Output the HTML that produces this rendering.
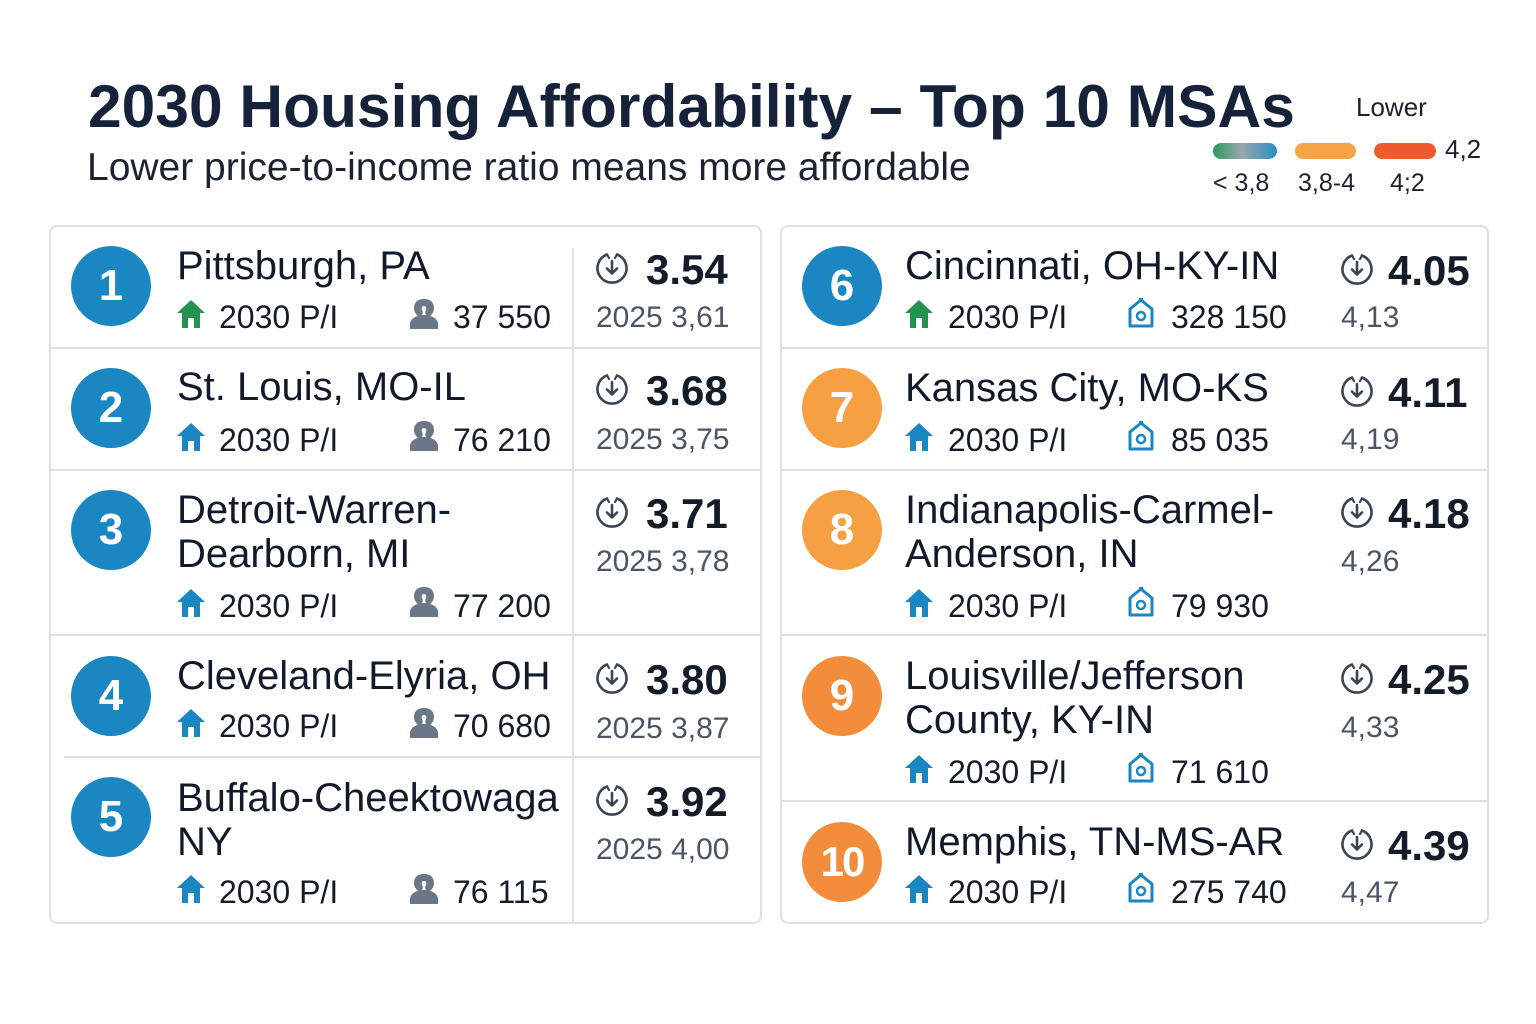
<!DOCTYPE html>
<html><head><meta charset="utf-8">
<style>
*{margin:0;padding:0;box-sizing:border-box}
html,body{width:1536px;height:1024px;background:#fff;overflow:hidden}
body{position:relative;font-family:"Liberation Sans",Arial,sans-serif;color:#121a2b}
.a{position:absolute;white-space:nowrap;line-height:1}
.title{font-weight:700;font-size:60.5px;color:#16213a;left:88px;top:76px;letter-spacing:0px}
.sub{font-size:39px;color:#1b2333;left:87px;top:148px}
.card{position:absolute;border:2px solid #dde1e6;border-radius:8px;background:#fff}
.hl{position:absolute;height:2px;background:#dde1e6}
.vl{position:absolute;width:2px;background:#dde1e6}
.circ{position:absolute;width:80px;height:80px;border-radius:50%;color:#fff;font-weight:700;font-size:44px;line-height:80px;text-align:center}
.blue{background:#1a87c2}
.or1{background:#f6a043}
.or2{background:#f38c3b}
.nm{font-size:40px;color:#111a2b}
.st{font-size:32px;color:#141c2a}
.rt{font-size:42px;font-weight:700;color:#141c2a}
.pv{font-size:30px;color:#4a5566}
svg{position:absolute;overflow:visible}
</style></head><body>

<div class="a title">2030 Housing Affordability – Top 10 MSAs</div>
<div class="a sub">Lower price-to-income ratio means more affordable</div>

<!-- legend -->
<div class="a" style="left:1356px;top:94px;font-size:26px;color:#1a2230">Lower</div>
<div class="a" style="left:1213px;top:143px;width:64px;height:16px;border-radius:8px;background:linear-gradient(90deg,#2a9a5c 0%,#9aa6ae 45%,#2a8fc2 100%)"></div>
<div class="a" style="left:1295px;top:143px;width:61px;height:16px;border-radius:8px;background:#f7a444"></div>
<div class="a" style="left:1374px;top:143px;width:62px;height:16px;border-radius:8px;background:#f05a2c"></div>
<div class="a" style="left:1445px;top:136px;font-size:26px;color:#1a2230">4,2</div>
<div class="a" style="left:1213px;top:171px;font-size:25px;color:#1a2230">&lt; 3,8</div>
<div class="a" style="left:1298px;top:171px;font-size:25px;color:#1a2230">3,8-4</div>
<div class="a" style="left:1390px;top:171px;font-size:25px;color:#1a2230">4;2</div>

<!-- cards -->
<div class="card" style="left:49px;top:225px;width:713px;height:699px"></div>
<div class="card" style="left:780px;top:225px;width:709px;height:699px"></div>

<!-- left dividers -->
<div class="hl" style="left:50px;top:347px;width:711px"></div>
<div class="hl" style="left:50px;top:469px;width:711px"></div>
<div class="hl" style="left:50px;top:634px;width:711px"></div>
<div class="hl" style="left:64px;top:756px;width:697px"></div>
<div class="vl" style="left:572px;top:248px;height:674px"></div>
<!-- right dividers -->
<div class="hl" style="left:781px;top:347px;width:707px"></div>
<div class="hl" style="left:781px;top:469px;width:707px"></div>
<div class="hl" style="left:781px;top:634px;width:707px"></div>
<div class="hl" style="left:781px;top:800px;width:707px"></div>

<svg width="0" height="0" style="position:absolute">
<defs>
<symbol id="house" viewBox="0 0 28 28"><path d="M14 0 L28 13 L23 13 L23 28 L17 28 L17 18 L11 18 L11 28 L5 28 L5 13 L0 13 Z"/></symbol>
<symbol id="person" viewBox="0 0 28 30"><path d="M14 0 C7 0 4 4 4 9 C4 13 6 15 8 17 C3 18 1 21 0 24 L0 30 L28 30 L28 24 C27 21 25 18 20 17 C22 15 24 13 24 9 C24 4 21 0 14 0 Z M14 7 C16 7 17 9 16 11 C15 13 15 14 16 16 L12 16 C13 14 13 13 12 11 C11 9 12 7 14 7 Z" fill-rule="evenodd"/></symbol>
<symbol id="tag" viewBox="0 0 28 30"><path d="M14 2 L25 11 L25 28 L3 28 L3 11 Z" fill="none" stroke="#1a87c2" stroke-width="3" stroke-linejoin="round"/><circle cx="14" cy="18" r="4" fill="none" stroke="#1a87c2" stroke-width="2.5"/><rect x="12" y="0" width="4" height="4" fill="#1a87c2"/></symbol>
<symbol id="clock" viewBox="0 0 34 34"><path d="M12 3.5 A14.5 14.5 0 1 0 22 3.5" fill="none" stroke="#3a4656" stroke-width="2.6" stroke-linecap="round"/><path d="M12 3.5 L14 7 M22 3.5 L20 7" stroke="#3a4656" stroke-width="2.2" stroke-linecap="round"/><path d="M17 10 L17 22 M12 17.5 L17 22.5 L22 17.5" fill="none" stroke="#3a4656" stroke-width="2.6" stroke-linecap="round" stroke-linejoin="round"/></symbol>
</defs>
</svg>

<!-- ROW 1 -->
<div class="circ blue" style="left:71px;top:246px">1</div>
<div class="a nm" style="left:177px;top:246px">Pittsburgh, PA</div>
<svg style="left:177px;top:300px" width="28" height="28" fill="#23944f"><use href="#house"/></svg>
<div class="a st" style="left:219px;top:301px">2030 P/I</div>
<svg style="left:410px;top:299px" width="28" height="30" fill="#6b7786"><use href="#person"/></svg>
<div class="a st" style="left:453px;top:301px">37 550</div>
<svg style="left:595px;top:251px" width="34" height="34"><use href="#clock"/></svg>
<div class="a rt" style="left:646px;top:249px">3.54</div>
<div class="a pv" style="left:596px;top:303px">2025 3,61</div>

<!-- ROW 2 -->
<div class="circ blue" style="left:71px;top:368px">2</div>
<div class="a nm" style="left:177px;top:367px">St. Louis, MO-IL</div>
<svg style="left:177px;top:423px" width="28" height="28" fill="#1a87c2"><use href="#house"/></svg>
<div class="a st" style="left:219px;top:424px">2030 P/I</div>
<svg style="left:410px;top:421px" width="28" height="30" fill="#6b7786"><use href="#person"/></svg>
<div class="a st" style="left:453px;top:424px">76 210</div>
<svg style="left:595px;top:372px" width="34" height="34"><use href="#clock"/></svg>
<div class="a rt" style="left:646px;top:370px">3.68</div>
<div class="a pv" style="left:596px;top:425px">2025 3,75</div>

<!-- ROW 3 -->
<div class="circ blue" style="left:71px;top:490px">3</div>
<div class="a nm" style="left:177px;top:490px">Detroit-Warren-</div>
<div class="a nm" style="left:177px;top:534px">Dearborn, MI</div>
<svg style="left:177px;top:589px" width="28" height="28" fill="#1a87c2"><use href="#house"/></svg>
<div class="a st" style="left:219px;top:590px">2030 P/I</div>
<svg style="left:410px;top:587px" width="28" height="30" fill="#6b7786"><use href="#person"/></svg>
<div class="a st" style="left:453px;top:590px">77 200</div>
<svg style="left:595px;top:495px" width="34" height="34"><use href="#clock"/></svg>
<div class="a rt" style="left:646px;top:493px">3.71</div>
<div class="a pv" style="left:596px;top:547px">2025 3,78</div>

<!-- ROW 4 -->
<div class="circ blue" style="left:71px;top:656px">4</div>
<div class="a nm" style="left:177px;top:656px">Cleveland-Elyria, OH</div>
<svg style="left:177px;top:709px" width="28" height="28" fill="#1a87c2"><use href="#house"/></svg>
<div class="a st" style="left:219px;top:710px">2030 P/I</div>
<svg style="left:410px;top:708px" width="28" height="30" fill="#6b7786"><use href="#person"/></svg>
<div class="a st" style="left:453px;top:710px">70 680</div>
<svg style="left:595px;top:661px" width="34" height="34"><use href="#clock"/></svg>
<div class="a rt" style="left:646px;top:659px">3.80</div>
<div class="a pv" style="left:596px;top:714px">2025 3,87</div>

<!-- ROW 5 -->
<div class="circ blue" style="left:71px;top:777px">5</div>
<div class="a nm" style="left:177px;top:778px">Buffalo-Cheektowaga</div>
<div class="a nm" style="left:177px;top:822px">NY</div>
<svg style="left:177px;top:875px" width="28" height="28" fill="#1a87c2"><use href="#house"/></svg>
<div class="a st" style="left:219px;top:876px">2030 P/I</div>
<svg style="left:410px;top:874px" width="28" height="30" fill="#6b7786"><use href="#person"/></svg>
<div class="a st" style="left:453px;top:876px">76 115</div>
<svg style="left:595px;top:783px" width="34" height="34"><use href="#clock"/></svg>
<div class="a rt" style="left:646px;top:781px">3.92</div>
<div class="a pv" style="left:596px;top:835px">2025 4,00</div>

<!-- ROW 6 -->
<div class="circ blue" style="left:802px;top:246px">6</div>
<div class="a nm" style="left:905px;top:246px">Cincinnati, OH-KY-IN</div>
<svg style="left:905px;top:300px" width="28" height="28" fill="#23944f"><use href="#house"/></svg>
<div class="a st" style="left:948px;top:301px">2030 P/I</div>
<svg style="left:1127px;top:298px" width="28" height="30"><use href="#tag"/></svg>
<div class="a st" style="left:1171px;top:301px">328 150</div>
<svg style="left:1340px;top:252px" width="34" height="34"><use href="#clock"/></svg>
<div class="a rt" style="left:1388px;top:250px">4.05</div>
<div class="a pv" style="left:1341px;top:303px">4,13</div>

<!-- ROW 7 -->
<div class="circ or1" style="left:802px;top:368px">7</div>
<div class="a nm" style="left:905px;top:368px">Kansas City, MO-KS</div>
<svg style="left:905px;top:423px" width="28" height="28" fill="#1a87c2"><use href="#house"/></svg>
<div class="a st" style="left:948px;top:424px">2030 P/I</div>
<svg style="left:1127px;top:421px" width="28" height="30"><use href="#tag"/></svg>
<div class="a st" style="left:1171px;top:424px">85 035</div>
<svg style="left:1340px;top:374px" width="34" height="34"><use href="#clock"/></svg>
<div class="a rt" style="left:1388px;top:372px">4.11</div>
<div class="a pv" style="left:1341px;top:425px">4,19</div>

<!-- ROW 8 -->
<div class="circ or1" style="left:802px;top:490px">8</div>
<div class="a nm" style="left:905px;top:490px">Indianapolis-Carmel-</div>
<div class="a nm" style="left:905px;top:534px">Anderson, IN</div>
<svg style="left:905px;top:589px" width="28" height="28" fill="#1a87c2"><use href="#house"/></svg>
<div class="a st" style="left:948px;top:590px">2030 P/I</div>
<svg style="left:1127px;top:587px" width="28" height="30"><use href="#tag"/></svg>
<div class="a st" style="left:1171px;top:590px">79 930</div>
<svg style="left:1340px;top:495px" width="34" height="34"><use href="#clock"/></svg>
<div class="a rt" style="left:1388px;top:493px">4.18</div>
<div class="a pv" style="left:1341px;top:547px">4,26</div>

<!-- ROW 9 -->
<div class="circ or2" style="left:802px;top:656px">9</div>
<div class="a nm" style="left:905px;top:656px">Louisville/Jefferson</div>
<div class="a nm" style="left:905px;top:700px">County, KY-IN</div>
<svg style="left:905px;top:755px" width="28" height="28" fill="#1a87c2"><use href="#house"/></svg>
<div class="a st" style="left:948px;top:756px">2030 P/I</div>
<svg style="left:1127px;top:753px" width="28" height="30"><use href="#tag"/></svg>
<div class="a st" style="left:1171px;top:756px">71 610</div>
<svg style="left:1340px;top:661px" width="34" height="34"><use href="#clock"/></svg>
<div class="a rt" style="left:1388px;top:659px">4.25</div>
<div class="a pv" style="left:1341px;top:713px">4,33</div>

<!-- ROW 10 -->
<div class="circ or2" style="left:802px;top:822px;font-size:42px;letter-spacing:-2px">10</div>
<div class="a nm" style="left:905px;top:822px">Memphis, TN-MS-AR</div>
<svg style="left:905px;top:875px" width="28" height="28" fill="#1a87c2"><use href="#house"/></svg>
<div class="a st" style="left:948px;top:876px">2030 P/I</div>
<svg style="left:1127px;top:873px" width="28" height="30"><use href="#tag"/></svg>
<div class="a st" style="left:1171px;top:876px">275 740</div>
<svg style="left:1340px;top:827px" width="34" height="34"><use href="#clock"/></svg>
<div class="a rt" style="left:1388px;top:825px">4.39</div>
<div class="a pv" style="left:1341px;top:878px">4,47</div>

</body></html>
